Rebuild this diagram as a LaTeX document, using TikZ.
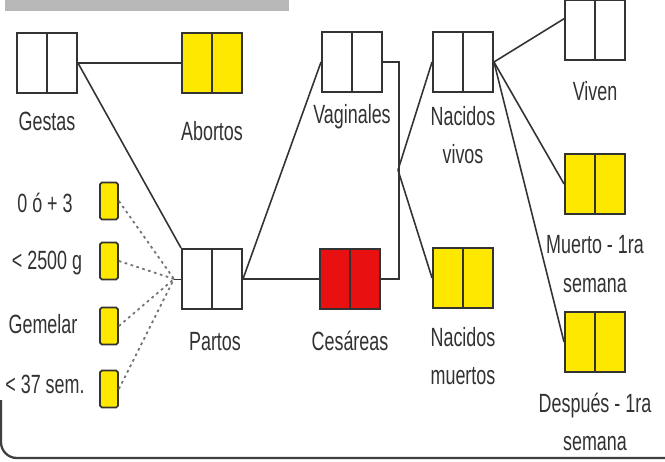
\documentclass[tikz,border=0pt]{standalone}
\usepackage{fontspec}
\setmainfont{Liberation Sans}[FakeStretch=0.68]
\usetikzlibrary{positioning}
\definecolor{boxyellow}{RGB}{255,232,0}
\definecolor{boxred}{RGB}{232,16,16}
\definecolor{inkgray}{RGB}{50,50,50}
\begin{document}
\begin{tikzpicture}[
  x=0.02cm, y=-0.02cm,
  font=\fontsize{15}{22}\selectfont,
  cell/.style={rectangle, draw=black!80, line width=1.1pt, minimum width=1.2cm, minimum height=1.2cm, inner sep=0pt,
    path picture={\draw[black!80, line width=1.1pt] (path picture bounding box.north) -- (path picture bounding box.south);}},
  tiny/.style={rectangle, rounded corners=1pt, draw=black!80, line width=1pt, fill=boxyellow, minimum width=0.36cm, minimum height=0.74cm, inner sep=0pt},
  lbl/.style={text=inkgray, align=center, inner sep=0pt},
  edge/.style={draw=black!80, line width=0.9pt},
  dots/.style={draw=black!55, line width=1pt, dash pattern=on 1.5pt off 2pt}
]
\useasboundingbox (0,0) rectangle (665,462);
\fill[black!28] (5,0) rectangle (289,11);
\draw[black!75, line width=1.3pt, rounded corners=9pt] (1,400) -- (1,458) -- (665,458);

% boxes
\node[cell] (gestas) at (47,63) {};
\node[cell, fill=boxyellow] (abortos) at (212,63) {};
\node[cell] (partos) at (212,279) {};
\node[cell] (vaginales) at (352,62) {};
\node[cell, fill=boxred] (cesareas) at (350,279) {};
\node[cell] (nvivos) at (463,62) {};
\node[cell, fill=boxyellow] (nmuertos) at (463,278) {};
\node[cell] (viven) at (595,30) {};
\node[cell, fill=boxyellow] (muerto) at (595,184) {};
\node[cell, fill=boxyellow] (despues) at (595,342) {};

\node[tiny] (t1) at (109,201) {};
\node[tiny] (t2) at (109,261) {};
\node[tiny] (t3) at (109,326) {};
\node[tiny] (t4) at (109,389) {};

% labels
\node[lbl] (lgestas) at (47,121) {Gestas};
\node[lbl] (labortos) at (212,131) {Abortos};
\node[lbl] (lpartos) at (215,342) {Partos};
\node[lbl] (lvaginales) at (352,117) {Vaginales};
\node[lbl] (lcesareas) at (350,341) {Cesáreas};
\node[lbl] (lnvivos) at (463,135) {Nacidos\\vivos};
\node[lbl] (lnmuertos) at (463,356) {Nacidos\\muertos};
\node[lbl] (lviven) at (595,91) {Viven};
\node[lbl] (lmuerto) at (595,264) {Muerto - 1ra\\semana};
\node[lbl] (ldespues) at (595,422) {Después - 1ra\\semana};

\node[lbl] (l1) at (45,203) {0 ó + 3};
\node[lbl] (l2) at (47,263) {< 2500 g};
\node[lbl] (l3) at (43,324) {Gemelar};
\node[lbl] (l4) at (45,384) {< 37 sem.};

\coordinate (hub) at (174,279);
\coordinate (split) at (398,170);

% connectors
\draw[edge] (gestas.east) -- (abortos.west);
\draw[edge] (gestas.east) -- (partos.north west);
\draw[edge] (partos.east) -- (cesareas.west);
\draw[edge] (partos.east) -- (vaginales.west);
\draw[edge] (vaginales.east) -- ++(16,0) |- (cesareas.east);
\draw[edge] (split) -- (nvivos.west);
\draw[edge] (split) -- (nmuertos.west);
\draw[edge] (nvivos.east) -- (viven.160);
\draw[edge] (nvivos.east) -- (muerto.west);
\draw[edge] (nvivos.east) -- (despues.west);

\foreach \t in {t1,t2,t3,t4}
  \draw[dots] (\t.east) -- (hub);
\draw[edge, line width=0.5pt] (hub) -- (partos.west);
\end{tikzpicture}
\end{document}
